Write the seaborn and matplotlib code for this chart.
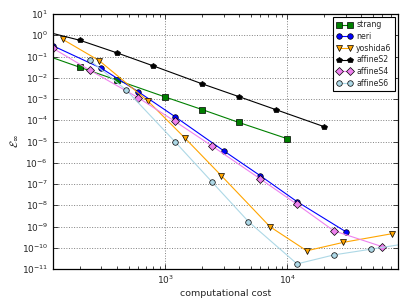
import numpy as np
import pandas as pd
import seaborn as sns
import matplotlib
matplotlib.use("Agg")
import matplotlib.pyplot as plt
from matplotlib.ticker import LogLocator, NullLocator

# data (cost, sup-norm error)
strang_cost = [100, 200, 400, 1000, 2000, 4000, 10000]
strang_err = [0.126, 0.031, 7.8e-3, 1.24e-3, 3.2e-4, 7.9e-5, 1.35e-5]

neri_cost = [120, 300, 600, 1200, 3000, 6000, 12000, 30000]
neri_err = [0.32, 0.0278, 2.2e-3, 1.48e-4, 3.7e-6, 2.45e-7, 1.48e-8, 5.75e-10]

yoshida_cost = [144, 288, 720, 1440, 2880, 7200, 14400, 28800, 72000]
yoshida_err = [0.65, 0.0635, 8.1e-4, 1.5e-5, 2.45e-7, 9.8e-10, 7.2e-11, 1.8e-10, 4.6e-10]

s2_cost = [80, 200, 400, 800, 2000, 4000, 8000, 20000]
s2_err = [2.2, 0.58, 0.15, 0.036, 5.2e-3, 1.3e-3, 3.2e-4, 5.0e-5]

s4_cost = [120, 240, 600, 1200, 2400, 6000, 12000, 24000, 60000]
s4_err = [0.245, 0.023, 1.15e-3, 8.9e-5, 6.3e-6, 1.74e-7, 1.1e-8, 6.3e-10, 1.12e-10]

s6_cost = [240, 480, 1200, 2400, 4800, 12000, 24000, 48000, 120000]
s6_err = [0.068, 2.6e-3, 9.8e-6, 1.29e-7, 1.7e-9, 1.74e-11, 4.6e-11, 8.5e-11, 1.95e-10]

series = [
    ("strang", strang_cost, strang_err, "green", "s"),
    ("neri", neri_cost, neri_err, "blue", "o"),
    ("yoshida6", yoshida_cost, yoshida_err, "orange", "v"),
    ("affineS2", s2_cost, s2_err, "black", "p"),
    ("affineS4", s4_cost, s4_err, "violet", "D"),
    ("affineS6", s6_cost, s6_err, "lightblue", "o"),
]

sns.set_style("ticks")
plt.rcParams["font.family"] = ["DejaVu Sans"]
plt.rcParams["xtick.direction"] = "in"
plt.rcParams["ytick.direction"] = "in"

fig = plt.figure(figsize=(4.07, 3.05), dpi=100)
ax = fig.add_axes([0.130, 0.118, 0.847, 0.836])
ax.set_xscale("log")
ax.set_yscale("log")

for name, cost, err, color, mk in series:
    d = pd.DataFrame({"cost": cost, "err": err})
    sns.lineplot(data=d, x="cost", y="err", ax=ax, color=color, marker=mk,
                 markersize=4 if mk != "v" else 4.5, markeredgecolor="black",
                 markeredgewidth=0.5, linewidth=0.8, estimator=None,
                 sort=False, label=name)

ax.set_xlim(120, 80000)
ax.set_ylim(1e-11, 1e1)
ax.yaxis.set_major_locator(LogLocator(base=10, numticks=20))
ax.yaxis.set_minor_locator(NullLocator())
ax.tick_params(which="both", top=True, right=True, labelsize=6.5, width=0.6)
ax.tick_params(which="major", length=3.5)
ax.tick_params(which="minor", length=2)
for sp in ax.spines.values():
    sp.set_linewidth(0.9)
    sp.set_color("black")

ax.grid(True, which="major", linestyle=":", color="0.5", linewidth=0.7)
ax.set_xlabel("computational cost", fontsize=6.8, labelpad=2)
ax.set_ylabel(r"$\mathcal{E}_\infty$", fontsize=8, labelpad=1)

leg = ax.legend(loc="upper right", numpoints=2, fontsize=5.6, fancybox=False,
                framealpha=1, edgecolor="black", handlelength=2.0,
                borderpad=0.4, labelspacing=0.35, handletextpad=0.5,
                borderaxespad=0.4)
leg.get_frame().set_linewidth(0.8)

fig.savefig("out.png", dpi=100)
